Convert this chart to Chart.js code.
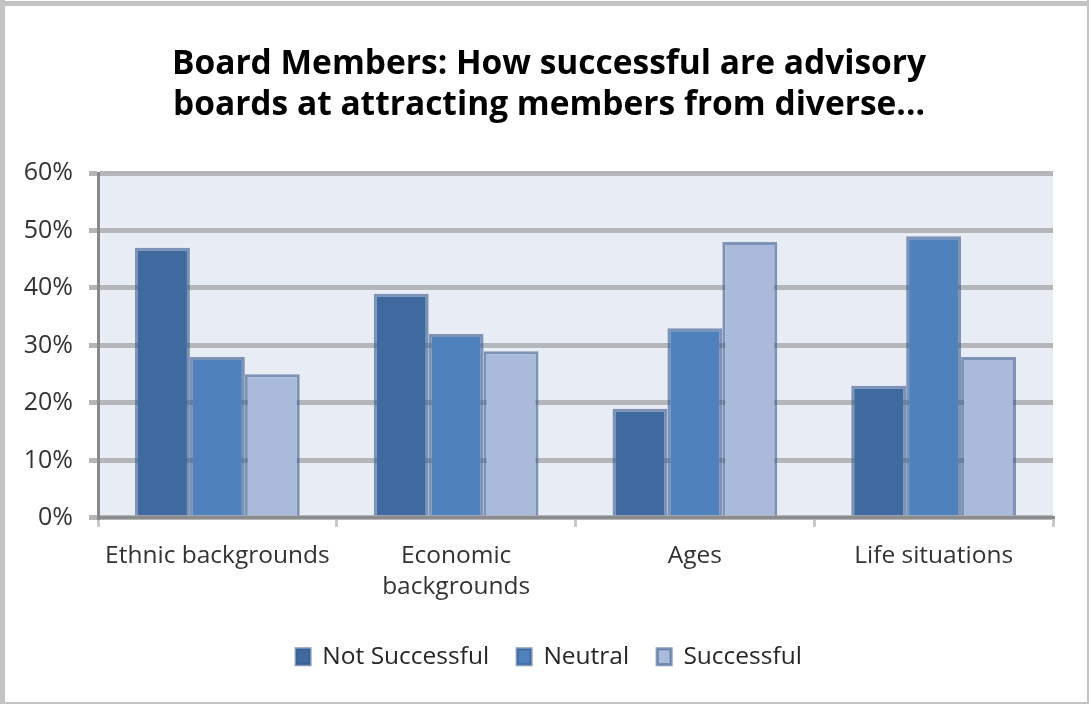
<!DOCTYPE html>
<html>
<head>
<meta charset="utf-8">
<script src="https://cdn.jsdelivr.net/npm/chart.js@4.4.1/dist/chart.umd.min.js"></script>
<style>
  html, body { margin: 0; padding: 0; background: #ffffff; }
  #wrap { position: relative; width: 1089px; height: 704px; }
  canvas { display: block; }
</style>
</head>
<body>
<div id="wrap"><canvas id="chart" width="1089" height="704"></canvas></div>
<script>
// Categories and survey shares (percent of board members)
const categories = ['Ethnic backgrounds', ['Economic', 'backgrounds'], 'Ages', 'Life situations'];
const notSuccessful = [47, 39, 19, 23];
const neutral = [28, 32, 33, 49];
const successful = [25, 29, 48, 28];
const seriesNames = ['Not Successful', 'Neutral', 'Successful'];
const yTicks = [0, 10, 20, 30, 40, 50, 60];

const FONT = '"Open Sans", "Noto Sans", sans-serif';

// Light frame around the whole chart and tinted plot area
const framePlugin = {
  id: 'frame',
  beforeDraw(chart) {
    const { ctx, chartArea: a } = chart;
    ctx.save();
    ctx.fillStyle = '#ffffff';
    ctx.fillRect(0, 0, chart.width, chart.height);
    ctx.fillStyle = '#e8ecf4';
    ctx.fillRect(a.left, a.top, a.right - a.left, a.bottom - a.top);
    ctx.fillStyle = '#c3c3c3';
    ctx.fillRect(0, 1, chart.width, 5);
    ctx.fillRect(0, 0, 5, chart.height);
    ctx.fillRect(chart.width - 2, 0, 2, chart.height);
    ctx.fillRect(0, chart.height - 2, chart.width, 2);
    ctx.restore();
  }
};

new Chart(document.getElementById('chart'), {
  type: 'bar',
  data: {
    labels: categories,
    datasets: [
      { label: seriesNames[0], data: notSuccessful, backgroundColor: '#3e6a9f', borderColor: 'rgba(52,88,140,0.6)', borderWidth: 3 },
      { label: seriesNames[1], data: neutral, backgroundColor: '#4f81bd', borderColor: 'rgba(52,88,140,0.6)', borderWidth: 3 },
      { label: seriesNames[2], data: successful, backgroundColor: '#aabada', borderColor: 'rgba(52,88,140,0.6)', borderWidth: 3 }
    ]
  },
  options: {
    responsive: false,
    animation: false,
    devicePixelRatio: 1,
    layout: { padding: { left: 9, right: 0, top: 0, bottom: 25 } },
    datasets: { bar: { categoryPercentage: 0.69, barPercentage: 1.0 } },
    plugins: {
      title: {
        display: true,
        text: ['Board Members: How successful are advisory', 'boards at attracting members from diverse...'],
        color: '#000000',
        font: { family: FONT, size: 33.5, weight: 'bold', lineHeight: 1.224 },
        padding: { top: 44, bottom: 47 }
      },
      legend: {
        position: 'bottom',
        labels: {
          color: '#262626',
          font: { family: FONT, size: 24.5 },
          boxWidth: 14,
          boxHeight: 16,
          padding: 28
        }
      },
      tooltip: { enabled: false }
    },
    scales: {
      x: {
        grid: { drawOnChartArea: false, drawTicks: true, tickLength: 9, color: '#c8c8c8', lineWidth: 3 },
        border: { display: true, color: '#8c8c8c', width: 3 },
        ticks: { color: '#333333', font: { family: FONT, size: 24.5, lineHeight: 1.257 }, padding: 14, maxRotation: 0, autoSkip: false }
      },
      y: {
        min: 0,
        max: 60,
        afterFit(scale) { scale.width = 89; },
        afterBuildTicks(scale) { scale.ticks = yTicks.map(v => ({ value: v })); },
        grid: { color: '#b5b6b9', lineWidth: 5, tickLength: 9, drawTicks: true },
        border: { display: true, color: '#888888', width: 3 },
        ticks: { color: '#333333', font: { family: FONT, size: 25 }, padding: 16, callback: v => v + '%' }
      },
      // empty right-hand margin beside the plot
      yRight: {
        type: 'linear',
        position: 'right',
        display: true,
        afterFit(scale) { scale.width = 36; },
        grid: { display: false },
        border: { display: false },
        ticks: { display: false }
      }
    }
  },
  plugins: [framePlugin]
});
</script>
</body>
</html>
